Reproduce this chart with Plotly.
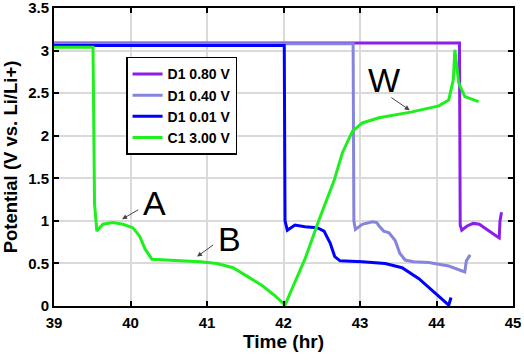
import plotly.graph_objects as go

# ---------------------------------------------------------------------------
# data (time in hr, potential in V vs. Li/Li+)
# ---------------------------------------------------------------------------
d080_t = [39.0, 44.30, 44.31, 44.33, 44.40, 44.48, 44.56, 44.65, 44.74, 44.80, 44.82, 44.83, 44.85]
d080_v = [3.09, 3.09, 0.95, 0.89, 0.94, 0.97, 0.96, 0.90, 0.85, 0.81, 0.80, 1.00, 1.10]

d040_t = [39.0, 42.91, 42.92, 42.94, 43.03, 43.16, 43.22, 43.25, 43.31, 43.38, 43.46,
          43.52, 43.59, 43.70, 43.90, 44.16, 44.37, 44.39, 44.44]
d040_v = [3.08, 3.08, 1.00, 0.90, 0.96, 0.99, 0.98, 0.94, 0.88, 0.86, 0.77,
          0.62, 0.54, 0.52, 0.51, 0.47, 0.40, 0.53, 0.60]

d001_t = [39.0, 42.01, 42.02, 42.05, 42.15, 42.28, 42.44, 42.53, 42.61, 42.67, 42.74,
          43.03, 43.33, 43.55, 43.77, 43.98, 44.16, 44.19]
d001_v = [3.06, 3.06, 1.00, 0.89, 0.95, 0.93, 0.92, 0.88, 0.74, 0.58, 0.53,
          0.52, 0.50, 0.45, 0.32, 0.15, 0.01, 0.10]

c300_t = [39.0, 39.51, 39.53, 39.56, 39.64, 39.77, 39.90, 40.03, 40.12, 40.19, 40.28,
          40.48, 40.91, 41.13, 41.34, 41.56, 41.72, 41.89, 42.02, 42.11, 42.28, 42.46,
          42.66, 42.77, 42.90, 43.03, 43.25, 43.68, 44.03, 44.16, 44.22, 44.24, 44.29,
          44.37, 44.55]
c300_v = [3.04, 3.04, 1.20, 0.88, 0.96, 0.98, 0.96, 0.92, 0.82, 0.67, 0.55,
          0.54, 0.52, 0.50, 0.45, 0.33, 0.24, 0.12, 0.01, 0.20, 0.55, 1.00,
          1.47, 1.80, 2.05, 2.15, 2.21, 2.28, 2.35, 2.42, 2.66, 3.01, 2.62,
          2.46, 2.40]

series = [
    ("D1 0.80 V", d080_t, d080_v, "#8A1EEB"),
    ("D1 0.40 V", d040_t, d040_v, "#8585DD"),
    ("D1 0.01 V", d001_t, d001_v, "#0000FF"),
    ("C1 3.00 V", c300_t, c300_v, "#1EF01E"),
]

# labels with arrows: (text, text x, text y, tail x, tail y, head x, head y)
labels = [
    ("A", 40.32, 1.21, 40.12, 1.14, 39.89, 1.02),
    ("B", 41.30, 0.79, 41.10, 0.73, 40.87, 0.58),
    ("W", 43.31, 2.66, 43.39, 2.46, 43.65, 2.30),
]

FONT = "Arial, Liberation Sans, sans-serif"

fig = go.Figure()
for name, t, v, col in series:
    fig.add_trace(go.Scatter(x=t, y=v, mode="lines", name=name,
                             line=dict(color=col, width=3)))

for txt, tx, ty, ax, ay, hx, hy in labels:
    fig.add_annotation(x=tx, y=ty, text=txt, showarrow=False,
                       font=dict(family=FONT, size=34, color="black"))
    fig.add_annotation(x=hx, y=hy, ax=ax, ay=ay, axref="x", ayref="y", text="",
                       showarrow=True, arrowhead=2, arrowsize=1, arrowwidth=1,
                       arrowcolor="#444444", standoff=0)

axis_style = dict(showline=True, linecolor="black", linewidth=2, mirror="ticks",
                  ticks="inside", ticklen=5, tickwidth=2, tickcolor="black",
                  showgrid=True, gridcolor="#DADADA", gridwidth=1.5, zeroline=False,
                  automargin=False, ticklabeloverflow="allow",
                  tickfont=dict(family=FONT, size=15, color="black", weight="bold"))

fig.update_xaxes(range=[39, 45], dtick=1, ticklabelstandoff=2,
                 title=dict(text="Time (hr)", standoff=3,
                            font=dict(family=FONT, size=19, color="black", weight="bold")),
                 **axis_style)
fig.update_yaxes(range=[0, 3.5], dtick=0.5,
                 title=dict(text="Potential (V vs. Li/Li+)", standoff=17,
                            font=dict(family=FONT, size=18.5, color="black", weight="bold")),
                 **axis_style)

fig.update_layout(
    width=524, height=362,
    margin=dict(l=54, r=11, t=8, b=56),
    paper_bgcolor="white", plot_bgcolor="white",
    legend=dict(x=0.157, y=0.836, xanchor="left", yanchor="top",
                bgcolor="white", bordercolor="black", borderwidth=1.5,
                font=dict(family=FONT, size=14, color="black", weight="bold"),
                tracegroupgap=0),
)

# drop the browser's default 8 px body margin so the figure fills the window
fig.write_html("out.html", config={"displayModeBar": False},
               post_script="document.body.style.margin = '0';")
